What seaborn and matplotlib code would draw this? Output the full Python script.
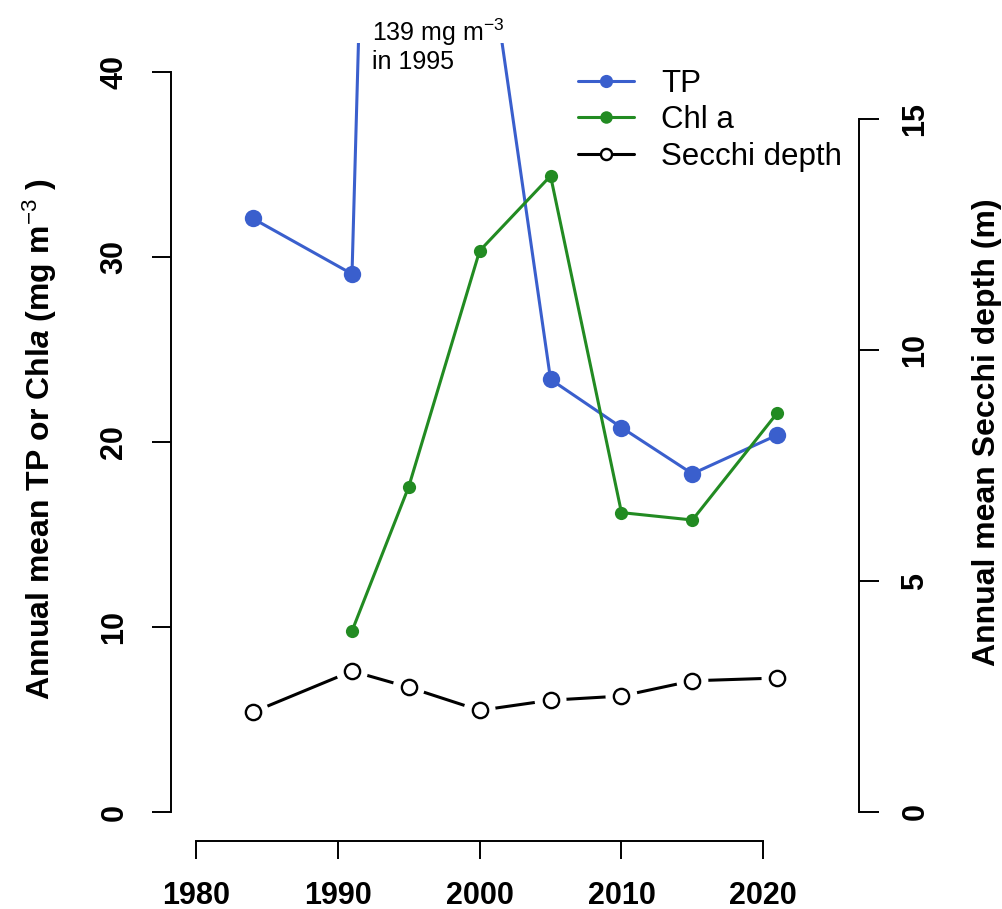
import numpy as np
import pandas as pd
import seaborn as sns
import matplotlib
matplotlib.use("Agg")
import matplotlib.pyplot as plt
from matplotlib.lines import Line2D

# ---- data ----
tp_years = [1984, 1991, 1995, 2000, 2005, 2010, 2015, 2021]
tp_values = [32.1, 29.1, 139.0, 50.0, 23.4, 20.8, 18.3, 20.4]
chl_years = [1991, 1995, 2000, 2005, 2010, 2015, 2021]
chl_values = [9.8, 17.6, 30.35, 34.4, 16.2, 15.8, 21.6]
secchi_years = [1984, 1991, 1995, 2000, 2005, 2010, 2015, 2021]
secchi_values = [2.16, 3.05, 2.7, 2.2, 2.42, 2.51, 2.84, 2.9]
x_ticks = [1980, 1990, 2000, 2010, 2020]
left_ticks = [0, 10, 20, 30, 40]
right_ticks = [0, 5, 10, 15]

BLUE = "#3A5FCD"
GREEN = "#228B22"

sns.set_style("white")
plt.rcParams["font.family"] = ["Liberation Sans", "DejaVu Sans"]
plt.rcParams["text.color"] = "black"
plt.rcParams["axes.labelcolor"] = "black"
plt.rcParams["xtick.color"] = "black"
plt.rcParams["ytick.color"] = "black"
plt.rcParams["mathtext.fontset"] = "custom"
plt.rcParams["mathtext.rm"] = "Liberation Sans"
plt.rcParams["mathtext.it"] = "Liberation Sans:italic"
plt.rcParams["mathtext.bf"] = "Liberation Sans:bold"
plt.rcParams["mathtext.bfit"] = "Liberation Sans:bold:italic"

W, H = 1003, 909
fig = plt.figure(figsize=(W / 100, H / 100), dpi=100)
ax_l, ax_r, ax_t, ax_b = 171, 859.3, 43, 841
ax = fig.add_axes([ax_l / W, 1 - ax_b / H, (ax_r - ax_l) / W, (ax_b - ax_t) / H])
ax2 = ax.twinx()

tp_df = pd.DataFrame({"year": tp_years, "val": tp_values})
chl_df = pd.DataFrame({"year": chl_years, "val": chl_values})
sec_df = pd.DataFrame({"year": secchi_years, "val": secchi_values})

sns.lineplot(data=tp_df, x="year", y="val", ax=ax, color=BLUE, linewidth=2.2,
             marker="o", markersize=12.5, markeredgewidth=0, legend=False)
sns.lineplot(data=chl_df, x="year", y="val", ax=ax, color=GREEN, linewidth=2.2,
             marker="o", markersize=9.5, markeredgewidth=0, legend=False)

# Secchi: R type="b" (line with gaps around points)
sns.lineplot(data=sec_df, x="year", y="val", ax=ax2, color="black", linewidth=2.2,
             legend=False)
sns.scatterplot(data=sec_df, x="year", y="val", ax=ax2, s=23**2, color="white",
                edgecolor="none", zorder=3, legend=False)
sns.scatterplot(data=sec_df, x="year", y="val", ax=ax2, s=11**2, facecolor="white",
                edgecolor="black", linewidth=1.7, zorder=4, legend=False)

px_per_year = (763.3 - 196) / 40
ax.set_xlim(1980 - (196 - ax_l) / px_per_year, 1980 + (ax_r - 196) / px_per_year)
lpx = (812.3 - 72.3) / 40
ax.set_ylim(-(ax_b - 812.3) / lpx, 40 + (72.3 - ax_t) / lpx)
rpx = (812 - 119) / 15
ax2.set_ylim(-(ax_b - 812) / rpx, 15 + (119 - ax_t) / rpx)

for a in (ax, ax2):
    for s in a.spines.values():
        s.set_visible(False)
    a.grid(False)
    a.set_xlabel("")
    a.set_ylabel("")

ax.spines["left"].set_visible(True)
ax.spines["left"].set_bounds(0, 40)
ax.spines["bottom"].set_visible(True)
ax.spines["bottom"].set_bounds(1980, 2020)
ax2.spines["right"].set_visible(True)
ax2.spines["right"].set_bounds(0, 15)
for a, side in ((ax, "left"), (ax, "bottom"), (ax2, "right")):
    a.spines[side].set_linewidth(1.4)
    a.spines[side].set_color("black")

ax.set_xticks(x_ticks)
ax.set_xticklabels([str(v) for v in x_ticks], fontweight="bold")
ax.set_yticks(left_ticks)
ax.set_yticklabels([str(v) for v in left_ticks], fontweight="bold", rotation=90, va="center")
ax2.set_yticks(right_ticks)
ax2.set_yticklabels([str(v) for v in right_ticks], fontweight="bold", rotation=90, va="center")

ax.tick_params(axis="x", direction="out", length=13, width=1.4, labelsize=22, pad=15.5,
               bottom=True, colors="black")
ax.tick_params(axis="y", direction="out", length=14, width=1.4, labelsize=22, pad=16,
               left=True, right=False, colors="black")
ax2.tick_params(axis="y", direction="out", length=14.5, width=1.4, labelsize=22, pad=15,
                right=True, left=False, colors="black")

ax.set_ylabel(r"Annual mean TP or Chl$\mathbfit{a}$ (mg m$^{-3}$ )", fontsize=23,
              fontweight="bold", va="center", color="black")
ax.yaxis.set_label_coords((40 - ax_l) / (ax_r - ax_l), (ax_b - 439) / (ax_b - ax_t))
ax2.set_ylabel("Annual mean Secchi depth (m)", fontsize=23, fontweight="bold",
               va="center", rotation=90, color="black")
ax2.yaxis.set_label_coords((987 - ax_l) / (ax_r - ax_l), (ax_b - 432) / (ax_b - ax_t))

ax.text((372 - ax_l) / (ax_r - ax_l), (ax_b - 17) / (ax_b - ax_t),
        "139 mg m$^{\\mathrm{-3}}$\nin 1995", transform=ax.transAxes, fontsize=18,
        ha="left", va="top", clip_on=False, linespacing=1.1, color="black")

handles = [
    Line2D([], [], color=BLUE, lw=2.2, marker="o", markersize=9.5, markeredgewidth=0),
    Line2D([], [], color=GREEN, lw=2.2, marker="o", markersize=9, markeredgewidth=0),
    Line2D([], [], color="black", lw=2.2, marker="o", markersize=8,
           markerfacecolor="white", markeredgecolor="black", markeredgewidth=1.7),
]
leg = fig.legend(handles, ["TP", "Chl a", "Secchi depth"], loc="upper left",
                 bbox_to_anchor=(578 / W, 1 - 69 / H), frameon=False, fontsize=22.5,
                 handlelength=1.8, handletextpad=0.85, labelspacing=0.2, borderpad=0,
                 borderaxespad=0)
for t in leg.get_texts():
    t.set_color("black")

fig.savefig("out.png", dpi=100)
